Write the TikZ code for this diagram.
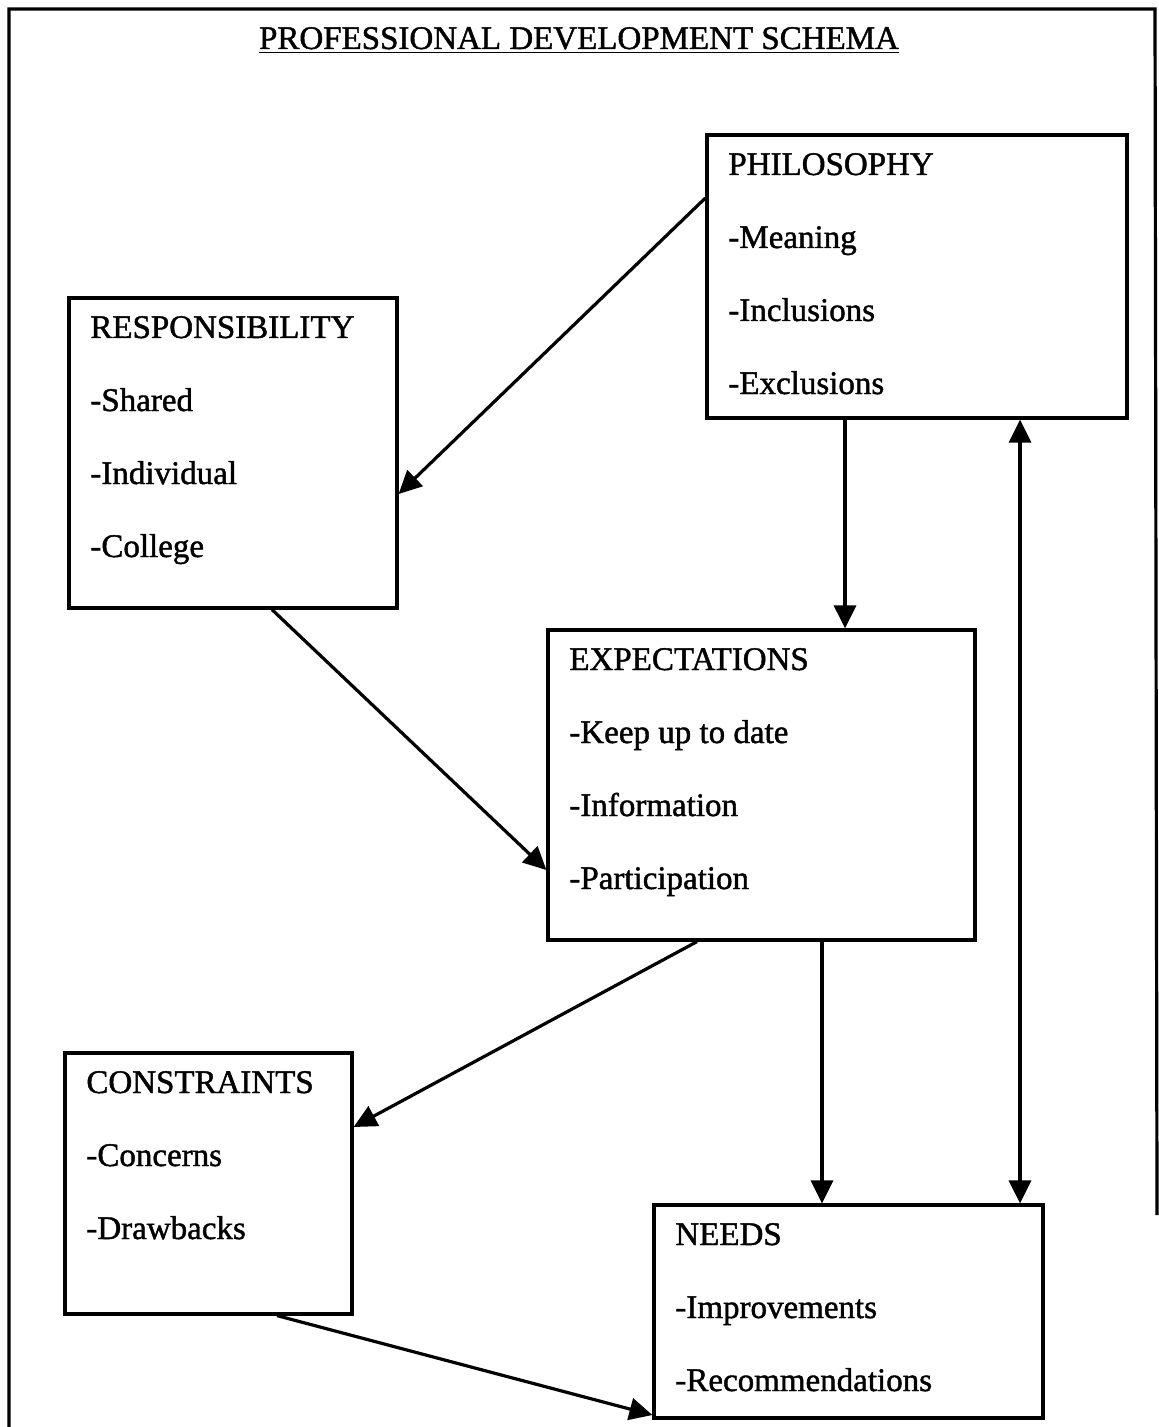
\documentclass[tikz,border=0pt]{standalone}
\usepackage{fontspec}
\setmainfont{Liberation Serif}[FakeBold=1.3]
\usetikzlibrary{arrows.meta,fit}
\tikzset{
    x=0.5pt,
    y=-0.5pt,
    schemaTip/.tip={Triangle[length=11.5pt,width=11pt]},
    frameline/.style={line width=1.6pt},
    box/.style={draw,line width=1.6pt,inner sep=0,fit={#1}},
    item/.style={anchor=base west,inner sep=0,font=\fontsize{16.5}{20}\selectfont},
    link/.style={line width=1.6pt,-schemaTip},
    twoway/.style={line width=1.6pt,schemaTip-schemaTip},
}
\newcommand{\schemabox}[6] {
    \node[box={(#2,#3) (#4,#5)}] (#1) {};
    \foreach \t [count=\i] in {#6}
        \node[item] (#1-\i) at ({#2+21},{#3+40+73*(\i-1)}) {\t};
}

\begin{document}
\begin{tikzpicture}
    \useasboundingbox (0,0) rectangle (1159,1427);
    \draw[frameline] (9,1427) -- (9,9) -- (1155,9) -- (1157,1215);
    \node[item,anchor=base] (title) at (579,49) {\underline{PROFESSIONAL DEVELOPMENT SCHEMA}};

    \schemabox{phil}{707}{135}{1127}{418}{PHILOSOPHY,-Meaning,-Inclusions,-Exclusions}
    \schemabox{resp}{69}{298}{397}{608}{RESPONSIBILITY,-Shared,-Individual,-College}
    \schemabox{expect}{548}{630}{975}{940}{EXPECTATIONS,-Keep up to date,-Information,-Participation}
    \schemabox{cons}{65}{1053}{352}{1314}{CONSTRAINTS,-Concerns,-Drawbacks}
    \schemabox{needs}{654}{1205}{1043}{1418}{NEEDS,-Improvements,-Recommendations}

    \draw[link] (phil.west |- 0,198) -- (resp.east |- 0,494);
    \draw[link] (phil.south -| 845,0) -- (expect.north -| 845,0);
    \draw[twoway] (phil.south -| 1020,0) -- (needs.north -| 1020,0);
    \draw[link] (resp.south -| 272,0) -- (expect.west |- 0,870);
    \draw[link] (expect.south -| 697,0) -- (cons.east |- 0,1127);
    \draw[link] (expect.south -| 822,0) -- (needs.north -| 822,0);
    \draw[link] (cons.south -| 277,0) -- (needs.west |- 0,1415);
\end{tikzpicture}
\end{document}
